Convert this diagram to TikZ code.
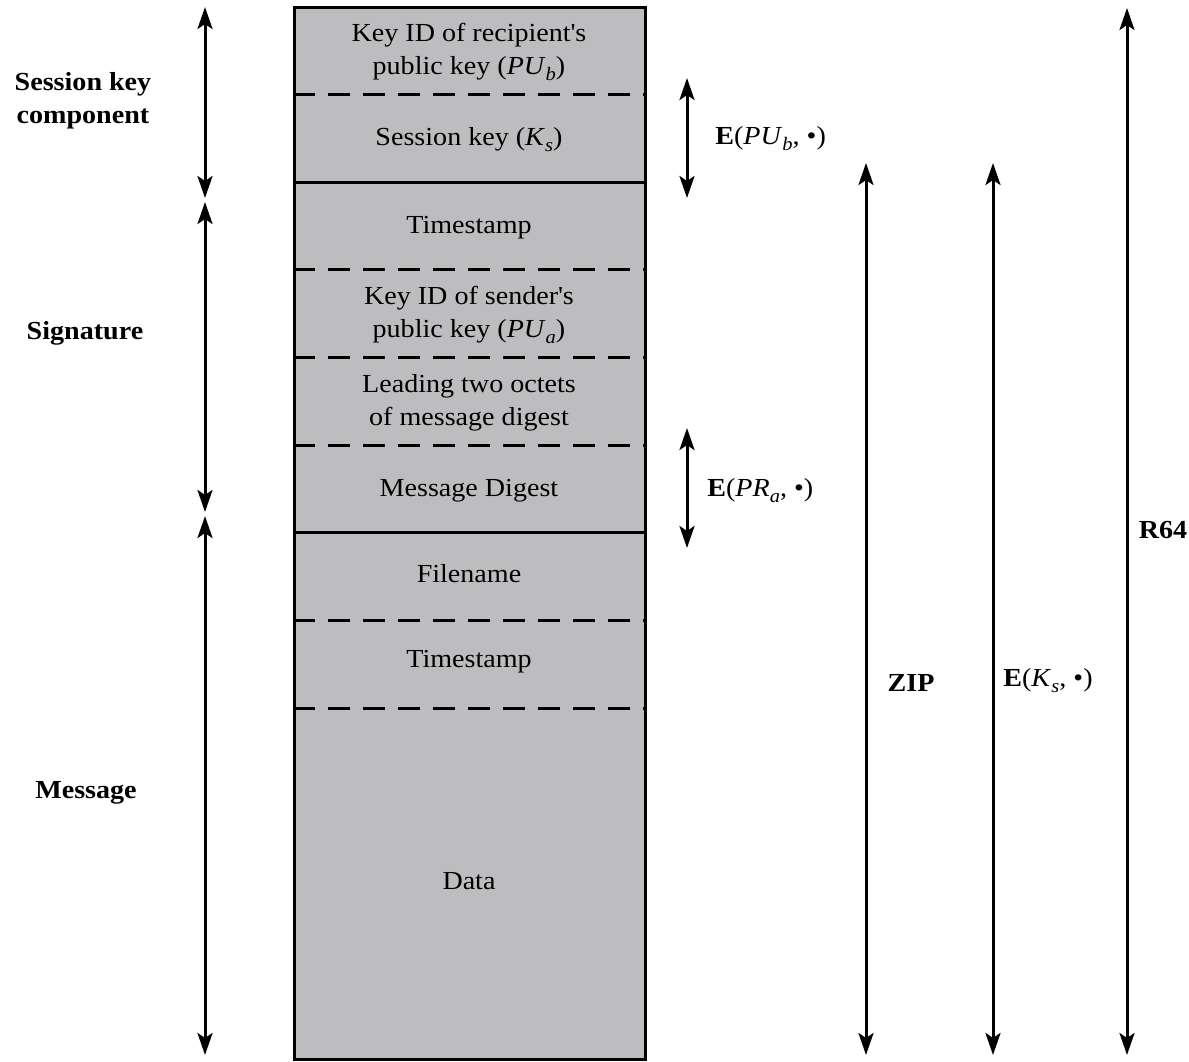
\documentclass[tikz,border=0pt]{standalone}
\usepackage{fontspec}
\setmainfont{Liberation Serif}[FakeStretch=1.08]
\usetikzlibrary{arrows.meta}
\definecolor{boxgray}{RGB}{189,188,191}
\newcommand\subit[1]{\raisebox{-0.5ex}{\fontsize{9.5}{10}\selectfont\textit{#1}}}
\begin{document}
\begin{tikzpicture}[x=0.5pt,y=-0.5pt,
  boxline/.style={line width=1.5pt},
  sepline/.style={line width=1.5pt, dash pattern=on 11pt off 6.5pt},
  dimarrow/.style={line width=1.5pt,
    {Stealth[length=11pt,width=7.5pt,inset=2.5pt]}-{Stealth[length=11pt,width=7.5pt,inset=2.5pt]}},
  lbl/.style={font=\fontsize{13}{16.5}\selectfont, align=center, inner sep=0pt},
  blbl/.style={font=\fontsize{13}{16.5}\selectfont\bfseries, align=center, inner sep=0pt}]
\useasboundingbox (0,0) rectangle (1189,1061);
% packet box
\node[draw, boxline, fill=boxgray, minimum width=175.5pt, minimum height=526pt, inner sep=0pt, anchor=north west] (pkt) at (293,6) {};
% separators
\foreach \y in {94,269,357,445,620,708}
  \draw[sepline] (pkt.west |- 0,\y) -- (pkt.east |- 0,\y);
\foreach \y in {182,532}
  \draw[boxline] (pkt.west |- 0,\y) -- (pkt.east |- 0,\y);
% field texts
\node[lbl] (f1) at (469,52) {Key ID of recipient\textquotesingle s\\public key (\textit{PU}\subit{b})};
\node[lbl] (f2) at (469,140) {Session key (\textit{K}\subit{s})};
\node[lbl] (f3) at (469,228) {Timestamp};
\node[lbl] (f4) at (469,315) {Key ID of sender\textquotesingle s\\public key (\textit{PU}\subit{a})};
\node[lbl] (f5) at (469,403) {Leading two octets\\of message digest};
\node[lbl] (f6) at (469,491) {Message Digest};
\node[lbl] (f7) at (469,574) {Filename};
\node[lbl] (f8) at (469,662) {Timestamp};
\node[lbl] (f9) at (469,881) {Data};
% left arrows
\coordinate (skT) at (205,7);   \coordinate (skB) at (205,198);
\coordinate (sgT) at (205,202); \coordinate (sgB) at (205,512);
\coordinate (msT) at (205,516); \coordinate (msB) at (205,1055);
\draw[dimarrow] (skT) -- (skB);
\draw[dimarrow] (sgT) -- (sgB);
\draw[dimarrow] (msT) -- (msB);
\node[blbl] (lsk) at (83,101) {Session key\\component};
\node[blbl] (lsg) at (85,333) {Signature};
\node[blbl] (lms) at (86,793) {Message};
% right arrows
\coordinate (puT) at (687,78);  \coordinate (puB) at (687,198);
\coordinate (prT) at (687,428); \coordinate (prB) at (687,548);
\coordinate (zT) at (866,163);  \coordinate (zB) at (866,1055);
\coordinate (kT) at (993,163);  \coordinate (kB) at (993,1055);
\coordinate (rT) at (1127,8);   \coordinate (rB) at (1127,1055);
\draw[dimarrow] (puT) -- (puB);
\draw[dimarrow] (prT) -- (prB);
\draw[dimarrow] (zT) -- (zB);
\draw[dimarrow] (kT) -- (kB);
\draw[dimarrow] (rT) -- (rB);
\node[lbl, anchor=west] (lpu) at (715,139) {\textbf{E}(\textit{PU}\subit{b}, \textbullet)};
\node[lbl, anchor=west] (lpr) at (707,491) {\textbf{E}(\textit{PR}\subit{a}, \textbullet)};
\node[blbl] (lzip) at (911,683) {ZIP};
\node[lbl, anchor=west] (lks) at (1003,681) {\textbf{E}(\textit{K}\subit{s}, \textbullet)};
\node[blbl] (lr64) at (1163,530) {R64};
\end{tikzpicture}
\end{document}
